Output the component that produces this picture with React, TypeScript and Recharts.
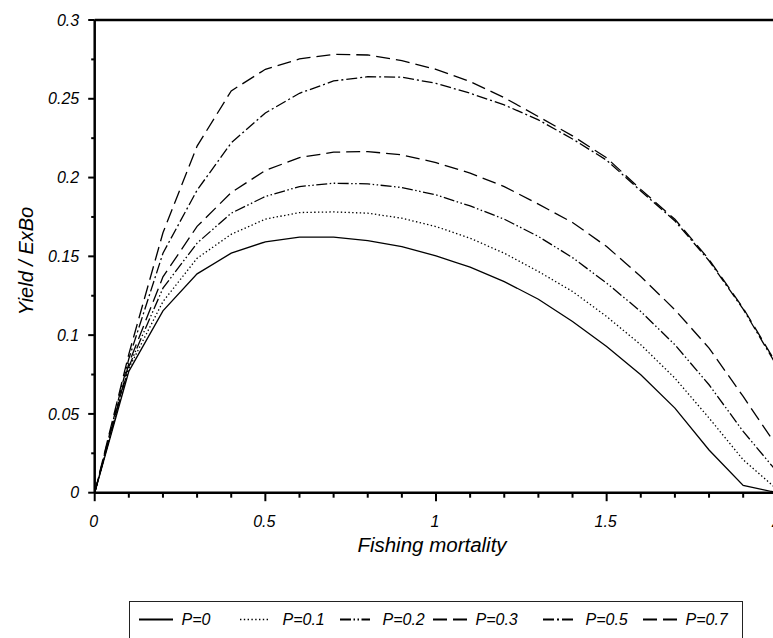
import React from 'react';
import { LineChart, Line, XAxis, YAxis, ReferenceLine, Legend } from 'recharts';

// Fishing mortality (x)
const F_VALUES = [0, 0.1, 0.2, 0.3, 0.4, 0.5, 0.6, 0.7, 0.8, 0.9, 1.0, 1.1, 1.2, 1.3, 1.4, 1.5, 1.6, 1.7, 1.8, 1.9, 2.0];

// Yield / ExBo for each P
const P0 = [0, 0.077, 0.1154, 0.1389, 0.152, 0.1592, 0.1622, 0.1622, 0.16, 0.1562, 0.1503, 0.1431, 0.134, 0.1228, 0.1087, 0.0928, 0.0748, 0.0537, 0.0271, 0.0046, 0];
const P01 = [0, 0.079, 0.1213, 0.1488, 0.164, 0.1736, 0.1778, 0.1782, 0.1774, 0.1742, 0.1689, 0.1615, 0.152, 0.1404, 0.1277, 0.1118, 0.0939, 0.0727, 0.0474, 0.0209, 0.002];
const P02 = [0, 0.08, 0.1298, 0.1584, 0.1774, 0.188, 0.1943, 0.1964, 0.196, 0.1937, 0.189, 0.182, 0.1736, 0.1626, 0.1492, 0.133, 0.115, 0.0939, 0.0685, 0.0389, 0.013];
const P03 = [0, 0.082, 0.137, 0.169, 0.1905, 0.2045, 0.2127, 0.2161, 0.2165, 0.2144, 0.2095, 0.2028, 0.1943, 0.1831, 0.1715, 0.1562, 0.1372, 0.1161, 0.0918, 0.0611, 0.029];
const P05 = [0, 0.085, 0.152, 0.192, 0.222, 0.241, 0.2535, 0.2613, 0.264, 0.2637, 0.2598, 0.2535, 0.2461, 0.2366, 0.2245, 0.211, 0.1915, 0.1725, 0.1472, 0.1165, 0.08];
const P07 = [0, 0.088, 0.165, 0.22, 0.255, 0.2687, 0.2753, 0.2782, 0.2778, 0.2742, 0.2687, 0.2609, 0.2507, 0.2387, 0.2265, 0.2125, 0.1925, 0.1735, 0.148, 0.1172, 0.081];

const SERIES_KEYS = ['p0', 'p01', 'p02', 'p03', 'p05', 'p07'];
const SERIES_NAMES = ['P=0', 'P=0.1', 'P=0.2', 'P=0.3', 'P=0.5', 'P=0.7'];
const SERIES_VALUES = [P0, P01, P02, P03, P05, P07];

const X_TICKS = [0, 0.1, 0.2, 0.3, 0.4, 0.5, 0.6, 0.7, 0.8, 0.9, 1.0, 1.1, 1.2, 1.3, 1.4, 1.5, 1.6, 1.7, 1.8, 1.9, 2.0];
const Y_TICKS = [0, 0.025, 0.05, 0.075, 0.1, 0.125, 0.15, 0.175, 0.2, 0.225, 0.25, 0.275, 0.3];

const X_TITLE = 'Fishing mortality';
const Y_TITLE = 'Yield / ExBo';

// styles (kept apart from data)
const DASHES: (string | undefined)[] = [
  undefined,
  '1.4 2.4',
  '11 2.5 1.5 2.5 1.5 2.5',
  '14 6',
  '11 3 2 3',
  '14 6',
];
const LEGEND_SAMPLE_X = [9, 110, 210, 303, 413, 513];
const LEGEND_SAMPLE_W = [34, 29, 30, 34, 31, 34];

const FONT = "'Liberation Sans', Arial, sans-serif";

const data = F_VALUES.map((f, i) => {
  const row: Record<string, number> = { f };
  SERIES_KEYS.forEach((k, j) => {
    row[k] = SERIES_VALUES[j][i];
  });
  return row;
});

const fmt = (v: number) => String(Math.round(v * 1000) / 1000);

const XTick = (props: any) => {
  const { x, y, payload } = props;
  const v = payload.value as number;
  const major = Math.abs(v * 2 - Math.round(v * 2)) < 1e-6;
  return (
    <g>
      <line x1={x} x2={x} y1={y} y2={y + (major ? 8.5 : 5)} stroke="#000" strokeWidth={2} />
      {major && (
        <text x={x - 1} y={y + 34.6} textAnchor="middle" fontSize={16} fontStyle="italic" fontFamily={FONT} fill="#000">
          {fmt(v)}
        </text>
      )}
    </g>
  );
};

const YTick = (props: any) => {
  const { x, y, payload } = props;
  const v = payload.value as number;
  const major = Math.abs(v * 20 - Math.round(v * 20)) < 1e-6;
  return (
    <g>
      <line x1={x - (major ? 6.5 : 3.5)} x2={x} y1={y} y2={y} stroke="#000" strokeWidth={2} />
      {major && (
        <text x={x - 15.5} y={y + 5.7} textAnchor="end" fontSize={16} fontStyle="italic" fontFamily={FONT} fill="#000">
          {fmt(v)}
        </text>
      )}
    </g>
  );
};

const XTitle = (props: any) => {
  const vb = props.viewBox || { x: 0, y: 0, width: 0, height: 0 };
  return (
    <text x={vb.x + vb.width / 2 - 4} y={vb.y + 58.8} textAnchor="middle" fontSize={20.5} fontStyle="italic" fontFamily={FONT} fill="#000">
      {X_TITLE}
    </text>
  );
};

const YTitle = (props: any) => {
  const vb = props.viewBox || { x: 0, y: 0, width: 0, height: 0 };
  const cx = 25;
  const cy = vb.y + vb.height / 2 + 4.7;
  return (
    <text x={cx} y={cy} transform={`rotate(-90, ${cx}, ${cy})`} textAnchor="middle" fontSize={20} fontStyle="italic" fontFamily={FONT} fill="#000">
      {Y_TITLE}
    </text>
  );
};

const LegendBox = () => (
  <div style={{ width: 614, height: 50, border: '1.5px solid #222', boxSizing: 'border-box', background: '#fff' }}>
    <svg width={611} height={47} style={{ display: 'block' }}>
      {SERIES_NAMES.map((name, i) => (
        <g key={name}>
          <line
            x1={LEGEND_SAMPLE_X[i]}
            x2={LEGEND_SAMPLE_X[i] + LEGEND_SAMPLE_W[i]}
            y1={17.5}
            y2={17.5}
            stroke="#000"
            strokeWidth={i === 1 ? 1.6 : 2}
            strokeDasharray={DASHES[i]}
          />
          <text x={LEGEND_SAMPLE_X[i] + 42.5} y={23.2} fontSize={16} fontStyle="italic" fontFamily={FONT} fill="#000">
            {name}
          </text>
        </g>
      ))}
    </svg>
  </div>
);

export default function App() {
  return (
    <div style={{ position: 'fixed', left: 8, top: 8, width: 765, height: 630, overflow: 'hidden', background: '#fff' }}>
      <LineChart
        width={800}
        height={630}
        data={data}
        margin={{ top: 12, left: 26.7, right: 30.7, bottom: 105.3 }}
      >
        <XAxis
          dataKey="f"
          type="number"
          domain={[0, 2]}
          ticks={X_TICKS}
          interval={0}
          tickSize={0}
          tickMargin={0}
          height={40}
          axisLine={{ stroke: '#000', strokeWidth: 2.5 }}
          tickLine={false}
          tick={<XTick />}
          label={<XTitle />}
        />
        <YAxis
          type="number"
          domain={[0, 0.3]}
          ticks={Y_TICKS}
          interval={0}
          tickSize={0}
          tickMargin={0}
          width={60}
          axisLine={{ stroke: '#000', strokeWidth: 2.5 }}
          tickLine={false}
          tick={<YTick />}
          label={<YTitle />}
        />
        <ReferenceLine y={0.3} stroke="#000" strokeWidth={2.5} />
        <ReferenceLine x={2} stroke="#000" strokeWidth={2.5} />
        {SERIES_KEYS.map((k, i) => (
          <Line
            key={k}
            dataKey={k}
            name={SERIES_NAMES[i]}
            type="linear"
            stroke="#000"
            strokeWidth={1.3}
            strokeDasharray={DASHES[i]}
            dot={false}
            activeDot={false}
            isAnimationActive={false}
          />
        ))}
        <Legend
          layout="horizontal"
          verticalAlign="middle"
          align="center"
          wrapperStyle={{ top: 593, left: 121, width: 614, height: 50 }}
          content={() => <LegendBox />}
        />
      </LineChart>
    </div>
  );
}
